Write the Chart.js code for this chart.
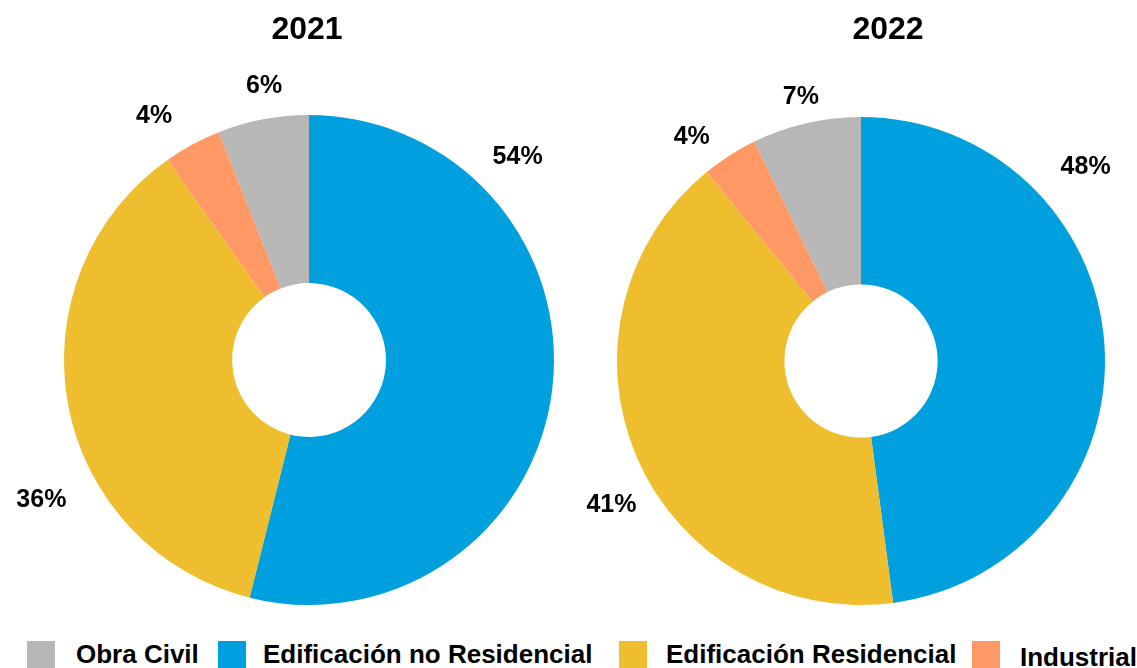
<!DOCTYPE html>
<html><head><meta charset="utf-8">
<script src="https://cdn.jsdelivr.net/npm/chart.js@4.4.1/dist/chart.umd.min.js"></script>
<style>
html,body{margin:0;padding:0;background:#fff;overflow:hidden;width:1137px;height:668px;}
#wrap{position:relative;width:1137px;height:668px;font-family:"Liberation Sans",Arial,sans-serif;}
.box{position:absolute;top:0;height:630px;}
.sw{position:absolute;width:28px;height:27px;}
.lt{position:absolute;font-weight:bold;font-size:26px;line-height:26px;color:#000;white-space:nowrap;}
</style></head><body>
<div id="wrap">
<div class="box" style="left:0;width:580px"><canvas id="c1"></canvas></div>
<div class="box" style="left:580px;width:557px"><canvas id="c2"></canvas></div>
<div id="legend"></div>
</div>
<script>
// ---- data ----
const categories = ['Edificación no Residencial', 'Edificación Residencial', 'Industrial', 'Obra Civil'];
const years = ['2021', '2022'];
const values2021 = [53.9, 36.3, 3.8, 6.0];
const values2022 = [47.9, 41.2, 3.7, 7.2];
const legendOrder = ['Obra Civil', 'Edificación no Residencial', 'Edificación Residencial', 'Industrial'];

// ---- style ----
const colors = ['#009FDE', '#EFBE2E', '#FE9966', '#B7B7B7'];
const FONT = '"Liberation Sans", Arial, sans-serif';

const sliceLabels = {
  id: 'sliceLabels',
  afterDatasetsDraw(chart, args, opts) {
    const ctx = chart.ctx;
    const meta = chart.getDatasetMeta(0);
    const vals = chart.data.datasets[0].data;
    const sum = vals.reduce((a, b) => a + b, 0);
    ctx.save();
    ctx.font = 'bold 25px ' + FONT;
    ctx.fillStyle = '#000';
    ctx.textAlign = 'center';
    ctx.textBaseline = 'middle';
    meta.data.forEach((arc, i) => {
      const p = arc.getProps(['x', 'y', 'startAngle', 'endAngle', 'outerRadius'], true);
      const a = p.startAngle + (p.endAngle - p.startAngle) * opts.along[i];
      const r = p.outerRadius + opts.gap[i];
      ctx.fillText(Math.round(vals[i] / sum * 100) + '%', p.x + Math.cos(a) * r, p.y + Math.sin(a) * r);
    });
    ctx.restore();
  }
};

const yearTitle = {
  id: 'yearTitle',
  afterDraw(chart, args, opts) {
    const ctx = chart.ctx, ca = chart.chartArea;
    ctx.save();
    ctx.font = 'bold 32px ' + FONT;
    ctx.fillStyle = '#000';
    ctx.textAlign = 'center';
    ctx.textBaseline = 'alphabetic';
    ctx.fillText(opts.text, (ca.left + ca.right) / 2 + opts.dx, opts.baseline);
    ctx.restore();
  }
};

function makeChart(id, values, title, padding, labelOpts, titleOpts) {
  return new Chart(document.getElementById(id), {
    type: 'doughnut',
    data: {
      labels: categories,
      datasets: [{ data: values, backgroundColor: colors, borderWidth: 0, hoverOffset: 0 }]
    },
    options: {
      responsive: true,
      maintainAspectRatio: false,
      animation: false,
      cutout: '31.4%',
      layout: { padding: padding },
      events: [],
      plugins: {
        legend: { display: false },
        tooltip: { enabled: false },
        title: { display: false },
        sliceLabels: labelOpts,
        yearTitle: Object.assign({ text: title }, titleOpts)
      }
    },
    plugins: [sliceLabels, yearTitle]
  });
}

makeChart('c1', values2021, years[0],
  { left: 64, right: 26, top: 115, bottom: 25 },
  { along: [0.236, 0.37, 0.21, 0.57], gap: [46, 57, 44, 33] },
  { dx: -2, baseline: 39 });

makeChart('c2', values2022, years[1],
  { left: 37, right: 32, top: 117, bottom: 25 },
  { along: [0.285, 0.456, 0.165, 0.506], gap: [53, 44, 37, 27] },
  { dx: 27, baseline: 39 });

// ---- legend ----
const swatchX = [27, 218, 619, 972];
const textX = [76, 263, 666, 1020];
const textDy = [0, 0, 0, 3];
const lg = document.getElementById('legend');
legendOrder.forEach((name, k) => {
  const i = categories.indexOf(name);
  const s = document.createElement('div');
  s.className = 'sw';
  s.style.left = swatchX[k] + 'px';
  s.style.top = '641px';
  s.style.background = colors[i];
  lg.appendChild(s);
  const t = document.createElement('div');
  t.className = 'lt';
  t.style.left = textX[k] + 'px';
  t.style.top = (641 + textDy[k]) + 'px';
  t.textContent = name;
  lg.appendChild(t);
});
</script>
</body></html>
